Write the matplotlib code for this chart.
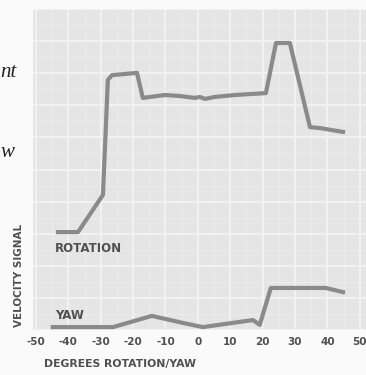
import matplotlib
matplotlib.use("Agg")
import matplotlib.pyplot as plt
import numpy as np

# Data (degrees vs. arbitrary velocity signal)
rot_deg = [-43.2, -37.0, -29.3, -27.8, -26.5, -18.8, -17.0, -14.8, -10.2, -5.6,
           -0.9, 0.6, 2.2, 5.2, 11.4, 21.0, 24.1, 28.4, 34.6, 37.7, 44.8]
rot_sig = [30.5, 30.5, 42.1, 77.9, 79.4, 80.1, 72.3, 72.6, 73.2, 72.9,
           72.3, 72.6, 72.0, 72.6, 73.2, 73.8, 89.4, 89.4, 63.2, 62.9, 61.7]
yaw_deg = [-44.8, -26.2, -14.2, -4.6, 1.5, 17.0, 19.1, 22.5, 39.5, 44.8]
yaw_sig = [0.9, 0.9, 4.4, 2.2, 0.9, 3.1, 1.6, 13.1, 13.1, 11.8]
xticks = [-50, -40, -30, -20, -10, 0, 10, 20, 30, 40, 50]
xtick_labels = ["-50", "-40", "-30", "-20", "-10", "0", "10", "20", "30", "40", "50"]

W, H = 366, 375
fig = plt.figure(figsize=(W / 100, H / 100), dpi=100)
fig.patch.set_facecolor("#fafafa")

ax = fig.add_axes([33 / W, 1 - 330 / H, (366 - 33) / W, (330 - 9) / H])
ax.set_facecolor("#e5e5e5")
ax.set_xlim(-50.9, 51.9)
ax.set_ylim(0, 100)

# grid
ax.set_xticks(xticks)
ax.set_xticks(np.arange(-50, 55, 5), minor=True)
ax.set_yticks(np.arange(0, 101, 10))
ax.set_yticks(np.arange(0, 101, 5), minor=True)
ax.grid(which="major", color="#f3f3f3", lw=1.3)
ax.grid(which="minor", color="#ececec", lw=0.7)
ax.set_axisbelow(True)
for s in ax.spines.values():
    s.set_visible(False)
ax.tick_params(which="both", length=0)
ax.set_yticklabels([])

lab_font = dict(family=["DejaVu Sans"], weight="heavy")
txt_col = "#505050"
ax.set_xticklabels(xtick_labels, fontsize=7.5, color=txt_col, **lab_font)
ax.tick_params(axis="x", pad=5)

ax.plot(rot_deg, rot_sig, color="#8a8a8a", lw=3.0, solid_joinstyle="round")
ax.plot(yaw_deg, yaw_sig, color="#8a8a8a", lw=3.0, solid_joinstyle="round")

ax.text(-44.2, 25.3, "ROTATION", fontsize=8.5, color=txt_col, va="center", ha="left", **lab_font)
ax.text(-44.2, 4.4, "YAW", fontsize=8.5, color=txt_col, va="center", ha="left", **lab_font)

fig.text(120 / W, 1 - 364 / H, "DEGREES ROTATION/YAW", fontsize=7.8, color=txt_col,
         ha="center", va="center", **lab_font)
fig.text(19 / W, 1 - 275 / H, "VELOCITY SIGNAL", fontsize=7.5, color=txt_col,
         ha="center", va="center", rotation=90, **lab_font)

# cropped page text at left edge
fig.text(0.5 / W, 1 - 77 / H, "nt", fontsize=15, style="italic", family="Liberation Serif",
         color="#222222", ha="left", va="baseline")
fig.text(0.5 / W, 1 - 157 / H, "w", fontsize=15, style="italic", family="Liberation Serif",
         color="#222222", ha="left", va="baseline")

fig.savefig("out.png", dpi=100, facecolor=fig.get_facecolor())
